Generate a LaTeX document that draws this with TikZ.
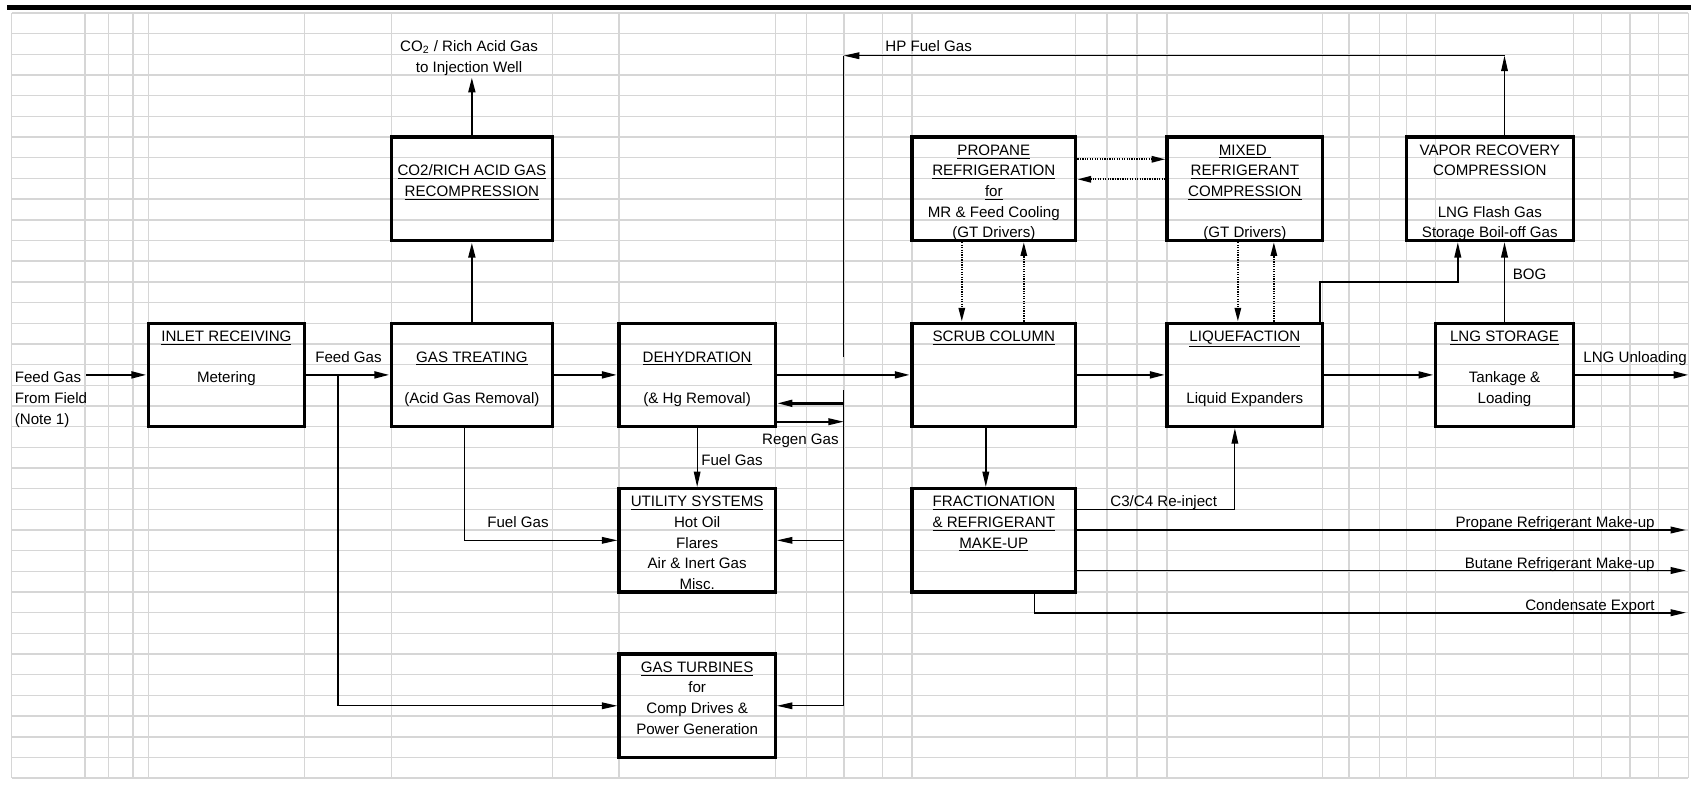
\documentclass[tikz,border=0pt]{standalone}
\usepackage{fontspec}
\setmainfont{Liberation Sans}
\usetikzlibrary{arrows.meta,calc}
\definecolor{cellgrid}{RGB}{214,214,214}
\newcommand{\hd}[1]{\underline{#1}}

\begin{document}
\begin{tikzpicture}[x=0.02cm, y=-0.02cm,
    declare function={gy(\k)=13+20.68*\k; bl(\k)=10.5+20.68*(\k+1);},
    >={Triangle[length=8.8pt,width=3.8pt]},
    cellline/.style={draw=cellgrid, line width=0.8pt},
    unitbox/.style={draw, line width=1.9pt, inner sep=0pt, minimum height=2.068cm, minimum width=#1},
    txt/.style={font=\fontsize{8.6}{10}\selectfont, inner sep=0pt, anchor=base},
    txtw/.style={txt, anchor=base west},
    txte/.style={txt, anchor=base east},
    heavy/.style={line width=1.5pt},
    medium/.style={line width=0.95pt},
    light/.style={line width=0.6pt},
    dotflow/.style={line width=1.1pt, dash pattern=on 0.7pt off 0.7pt, -{Triangle[length=7.8pt,width=3.6pt]}}]
\useasboundingbox (0,0) rectangle (1699,784);

% sheet grid
\foreach \k in {0,...,37}
  \draw[cellline] (11.5,{gy(\k)}) -- (1688.2,{gy(\k)});
\foreach \x in {11.5,85,108.3,132.8,148.5,304.3,391.5,552.2,619,775.3,806.7,843.8,882.4,911.9,1075.7,1107,1137,1167,1322.7,1348.8,1379.4,1406.2,1435.6,1573.4,1601.3,1630,1658.7,1688.2}
  \draw[cellline] (\x,13) -- (\x,778.16);
\draw[line width=2.85pt] (7,7.5) -- (1691,7.5);

% process units
\node[unitbox=3.116cm] (inlet) at (226.4,374.9) {};
\node[unitbox=3.214cm] (treat) at (471.85,374.9) {};
\node[unitbox=3.214cm] (recomp) at (471.85,188.78) {};
\node[unitbox=3.126cm] (dehyd) at (697.15,374.9) {};
\node[unitbox=3.126cm] (utility) at (697.15,540.34) {};
\node[unitbox=3.126cm] (turbines) at (697.15,705.78) {};
\node[unitbox=3.276cm] (scrub) at (993.8,374.9) {};
\node[unitbox=3.276cm] (fract) at (993.8,540.34) {};
\node[unitbox=3.276cm] (propane) at (993.8,188.78) {};
\node[unitbox=3.114cm] (mixed) at (1244.85,188.78) {};
\node[unitbox=3.114cm] (liquef) at (1244.85,374.9) {};
\node[unitbox=2.756cm] (storage) at (1504.5,374.9) {};
\node[unitbox=3.344cm] (vapor) at (1489.8,188.78) {};

% free ends and bends
\coordinate (fieldin) at (86,374.9);
\coordinate (feedtap) at (338,374.9);
\coordinate (co2out) at (471.85,77);
\coordinate (hpturn) at (1504.5,55.7);
\coordinate (hpend) at (843.8,55.7);
\coordinate (hpgapA) at (843.8,356.7);
\coordinate (hpgapB) at (843.8,390);
\coordinate (hpfoot) at (843.8,705.78);
\coordinate (regenret) at (843.8,403.3);
\coordinate (regenout) at (843.8,421.7);
\coordinate (lqturn) at (1457.8,281.84);
\coordinate (unload) at (1689,374.9);
\coordinate (c3mk) at (1686,530);
\coordinate (c4mk) at (1686,570.5);
\coordinate (condout) at (1686,612.7);

% main gas train
\draw[heavy,->] (fieldin) -- (inlet.west);
\draw[heavy,->] (inlet.east) -- (treat.west);
\draw[heavy,->] (treat.east) -- (dehyd.west);
\draw[heavy,->] (dehyd.east) -- (scrub.west);
\draw[heavy,->] (scrub.east) -- (liquef.west);
\draw[heavy,->] (liquef.east) -- (storage.west);
\draw[heavy,->] (storage.east) -- (unload);
\draw[heavy,->] (treat.north) -- (recomp.south);
\draw[heavy,->] (recomp.north) -- (co2out);

% fuel gas
\draw[light,->] (feedtap) |- (turbines.west);
\draw[light,->] ($(treat.south)+(-7,0)$) |- (utility.west);
\draw[light,->] (dehyd.south) -- (utility.north);
\draw[light,->] (vapor.north -| hpturn) -- (hpturn);
\draw[light,->] (hpturn) -- (hpend);
\draw[light] (hpend) -- (hpgapA);
\draw[light] (hpgapB) -- (hpfoot);
\draw[light,->] (hpfoot |- utility.east) -- (utility.east);
\draw[light,->] (hpfoot) -- (turbines.east);
\draw[heavy,->] (regenret) -- (regenret -| dehyd.east);
\draw[medium,->] (dehyd.east |- regenout) -- (regenout);

% refrigeration loops
\draw[dotflow] ($(propane.east)+(0,-29.5)$) -- ($(mixed.west)+(0,-29.5)$);
\draw[dotflow] ($(mixed.west)+(0,-9.5)$) -- ($(propane.east)+(0,-9.5)$);
\draw[dotflow] ($(propane.south)+(-32,0)$) -- ($(scrub.north)+(-32,0)$);
\draw[dotflow] ($(scrub.north)+(30,0)$) -- ($(propane.south)+(30,0)$);
\draw[dotflow] ($(mixed.south)+(-7,0)$) -- ($(liquef.north)+(-7,0)$);
\draw[dotflow] ($(liquef.north)+(29,0)$) -- ($(mixed.south)+(29,0)$);

% liquids and vapours
\draw[medium,->] ($(scrub.south)+(-8,0)$) -- ($(fract.north)+(-8,0)$);
\draw[light,->] ($(fract.east)+(0,-31)$) -| ($(liquef.south)+(-10,0)$);
\draw[medium,->] ($(fract.east)+(0,-10.34)$) -- (c3mk);
\draw[medium,->] ($(fract.east)+(0,30.16)$) -- (c4mk);
\draw[medium,->] ($(fract.south)+(40.6,0)$) |- (condout);
\draw[medium,->] (storage.north) -- (storage.north |- vapor.south);
\draw[medium,->] ($(liquef.north east)+(-4.7,0)$) |- (lqturn) -- (lqturn |- vapor.south);

% stream labels
\node[txtw] (field-1) at (14.5,{bl(17)}) {Feed Gas};
\node[txtw] (field-2) at (14.5,{bl(18)}) {From Field};
\node[txtw] (field-3) at (14.5,{bl(19)}) {(Note 1)};
\node[txtw] (feedlbl) at (315,{bl(16)}) {Feed Gas};
\node[txt] (co2-1) at (469,{bl(1)}) {CO\textsubscript{2} / Rich Acid Gas};
\node[txt] (co2-2) at (469,{bl(2)}) {to Injection Well};
\node[txtw] (tfuellbl) at (487,{bl(24)}) {Fuel Gas};
\node[txtw] (dfuellbl) at (701,{bl(21)}) {Fuel Gas};
\node[txte] (regenlbl) at (839,{bl(20)}) {Regen Gas};
\node[txtw] (hplbl) at (885,{bl(1)}) {HP Fuel Gas};
\node[txtw] (boglbl) at (1512.5,{bl(12)}) {BOG};
\node[txtw] (unloadlbl) at (1583,{bl(16)}) {LNG Unloading};
\node[txtw] (reinjlbl) at (1110,{bl(23)}) {C3/C4 Re-inject};
\node[txte] (c3lbl) at (1655,{bl(24)}) {Propane Refrigerant Make-up};
\node[txte] (c4lbl) at (1655,{bl(26)}) {Butane Refrigerant Make-up};
\node[txte] (condlbl) at (1655,{bl(28)}) {Condensate Export};

% unit texts
\node[txt] (inlet-1) at (226.4,{bl(15)}) {\hd{INLET RECEIVING}};
\node[txt] (inlet-2) at (226.4,{bl(17)}) {Metering};
\node[txt] (treat-1) at (471.85,{bl(16)}) {\hd{GAS TREATING}};
\node[txt] (treat-2) at (471.85,{bl(18)}) {(Acid Gas Removal)};
\node[txt] (recomp-1) at (471.85,{bl(7)}) {\hd{CO2/RICH ACID GAS}};
\node[txt] (recomp-2) at (471.85,{bl(8)}) {\hd{RECOMPRESSION}};
\node[txt] (dehyd-1) at (697.15,{bl(16)}) {\hd{DEHYDRATION}};
\node[txt] (dehyd-2) at (697.15,{bl(18)}) {(\& Hg Removal)};
\node[txt] (utility-1) at (697.15,{bl(23)}) {\hd{UTILITY SYSTEMS}};
\node[txt] (utility-2) at (697.15,{bl(24)}) {Hot Oil};
\node[txt] (utility-3) at (697.15,{bl(25)}) {Flares};
\node[txt] (utility-4) at (697.15,{bl(26)}) {Air \& Inert Gas};
\node[txt] (utility-5) at (697.15,{bl(27)}) {Misc.};
\node[txt] (turbines-1) at (697.15,{bl(31)}) {\hd{GAS TURBINES}};
\node[txt] (turbines-2) at (697.15,{bl(32)}) {for};
\node[txt] (turbines-3) at (697.15,{bl(33)}) {Comp Drives \&};
\node[txt] (turbines-4) at (697.15,{bl(34)}) {Power Generation};
\node[txt] (scrub-1) at (993.8,{bl(15)}) {\hd{SCRUB COLUMN}};
\node[txt] (fract-1) at (993.8,{bl(23)}) {\hd{FRACTIONATION}};
\node[txt] (fract-2) at (993.8,{bl(24)}) {\hd{\& REFRIGERANT}};
\node[txt] (fract-3) at (993.8,{bl(25)}) {\hd{MAKE-UP}};
\node[txt] (propane-1) at (993.8,{bl(6)}) {\hd{PROPANE}};
\node[txt] (propane-2) at (993.8,{bl(7)}) {\hd{REFRIGERATION}};
\node[txt] (propane-3) at (993.8,{bl(8)}) {\hd{for}};
\node[txt] (propane-4) at (993.8,{bl(9)}) {MR \& Feed Cooling};
\node[txt] (propane-5) at (993.8,{bl(10)}) {(GT Drivers)};
\node[txt] (mixed-1) at (1244.85,{bl(6)}) {\hd{MIXED\ }};
\node[txt] (mixed-2) at (1244.85,{bl(7)}) {\hd{REFRIGERANT}};
\node[txt] (mixed-3) at (1244.85,{bl(8)}) {\hd{COMPRESSION}};
\node[txt] (mixed-4) at (1244.85,{bl(10)}) {(GT Drivers)};
\node[txt] (liquef-1) at (1244.85,{bl(15)}) {\hd{LIQUEFACTION}};
\node[txt] (liquef-2) at (1244.85,{bl(18)}) {Liquid Expanders};
\node[txt] (storage-1) at (1504.5,{bl(15)}) {\hd{LNG STORAGE}};
\node[txt] (storage-2) at (1504.5,{bl(17)}) {Tankage \&};
\node[txt] (storage-3) at (1504.5,{bl(18)}) {Loading};
\node[txt] (vapor-1) at (1489.8,{bl(6)}) {VAPOR RECOVERY};
\node[txt] (vapor-2) at (1489.8,{bl(7)}) {COMPRESSION};
\node[txt] (vapor-3) at (1489.8,{bl(9)}) {LNG Flash Gas};
\node[txt] (vapor-4) at (1489.8,{bl(10)}) {Storage Boil-off Gas};
\end{tikzpicture}
\end{document}
